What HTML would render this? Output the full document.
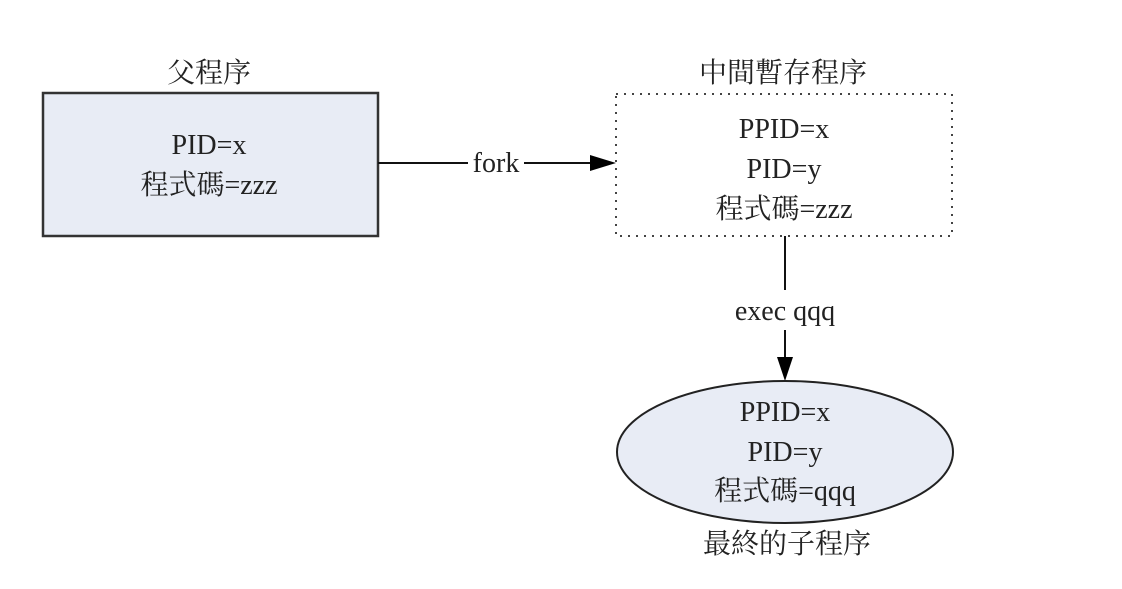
<!DOCTYPE html>
<html><head><meta charset="utf-8"><style>
html,body{margin:0;padding:0;background:#fff;}
svg text{font-family:"Liberation Serif","Noto Serif CJK SC","Noto Sans CJK TC",serif;font-size:28px;fill:#222;text-anchor:middle;}
</style></head><body>
<svg width="1122" height="584" viewBox="0 0 1122 584" xmlns="http://www.w3.org/2000/svg">
<text x="209" y="82">父程序</text>
<rect x="43" y="93" width="335" height="143" fill="#e8ecf5" stroke="#333" stroke-width="2.5"/>
<text x="209" y="154">PID=x</text>
<text x="209" y="194">程式碼=zzz</text>
<line x1="378" y1="163" x2="468" y2="163" stroke="#111" stroke-width="2"/>
<text x="496" y="172">fork</text>
<line x1="524" y1="163" x2="592" y2="163" stroke="#111" stroke-width="2"/>
<polygon points="590,155 616,163 590,171" fill="#000"/>
<text x="783" y="82">中間暫存程序</text>
<rect x="616" y="94" width="336" height="142" fill="none" stroke="#444" stroke-width="2" stroke-dasharray="2,6"/>
<text x="784" y="138">PPID=x</text>
<text x="784" y="178">PID=y</text>
<text x="784" y="218">程式碼=zzz</text>
<line x1="785" y1="236" x2="785" y2="290" stroke="#111" stroke-width="2"/>
<text x="785" y="320">exec qqq</text>
<line x1="785" y1="330" x2="785" y2="362" stroke="#111" stroke-width="2"/>
<polygon points="777,357 793,357 785,381" fill="#000"/>
<ellipse cx="785" cy="452" rx="168" ry="71" fill="#e8ecf5" stroke="#222" stroke-width="2"/>
<text x="785" y="421">PPID=x</text>
<text x="785" y="461">PID=y</text>
<text x="785" y="500">程式碼=qqq</text>
<text x="787" y="553">最終的子程序</text>
</svg>
</body></html>
